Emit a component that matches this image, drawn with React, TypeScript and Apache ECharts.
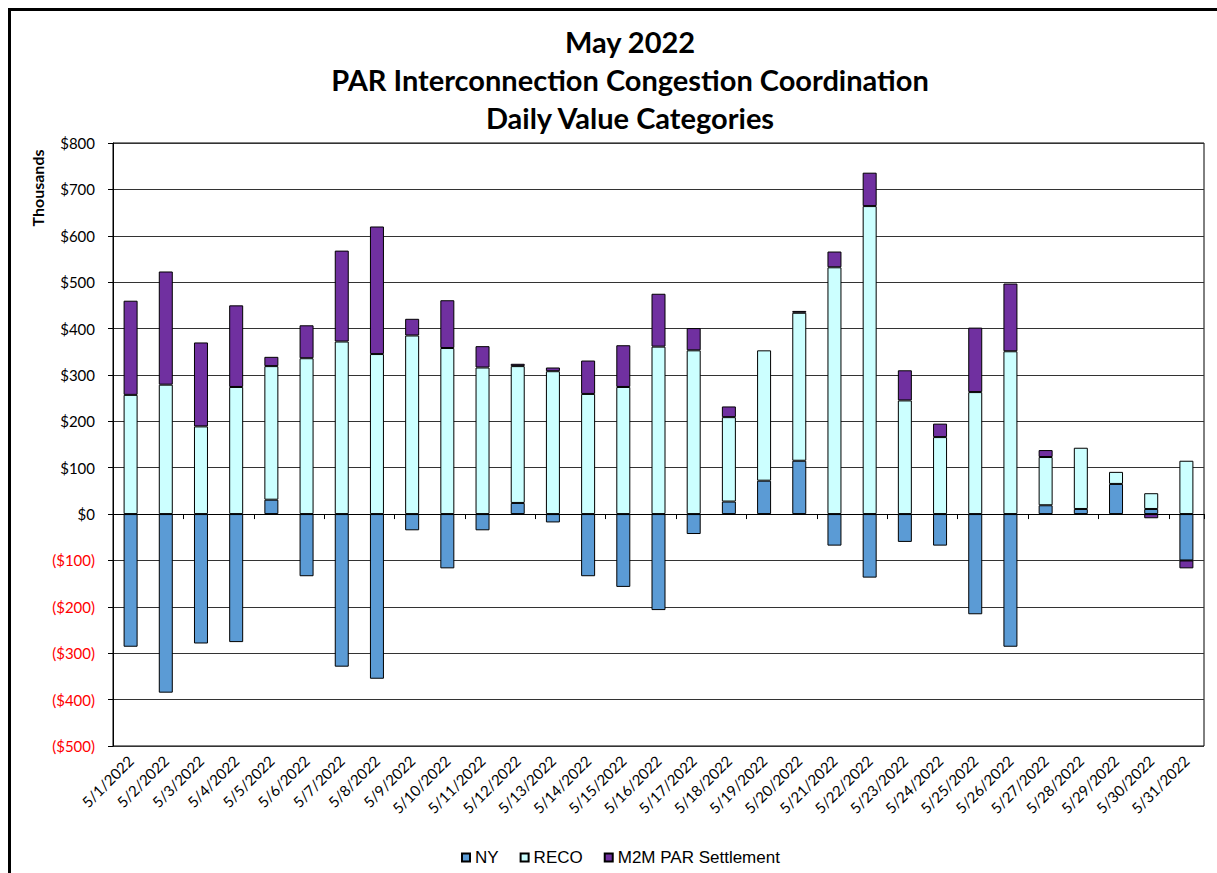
import React, { useEffect, useRef } from "react";
import * as echarts from "echarts";

const categories = [
  "5/1/2022", "5/2/2022", "5/3/2022", "5/4/2022", "5/5/2022", "5/6/2022", "5/7/2022", "5/8/2022",
  "5/9/2022", "5/10/2022", "5/11/2022", "5/12/2022", "5/13/2022", "5/14/2022", "5/15/2022", "5/16/2022",
  "5/17/2022", "5/18/2022", "5/19/2022", "5/20/2022", "5/21/2022", "5/22/2022", "5/23/2022", "5/24/2022",
  "5/25/2022", "5/26/2022", "5/27/2022", "5/28/2022", "5/29/2022", "5/30/2022", "5/31/2022",
];

const nyValues = [
  -286, -385, -279, -276, 31, -134, -329, -355, -35, -117, -35, 24, -18, -134, -157, -207,
  -43, 27, 72, 115, -68, -137, -60, -68, -216, -286, 19, 11, 65, 11, -100,
];
const recoValues = [
  257, 279, 189, 274, 288, 336, 372, 345, 385, 358, 316, 295, 308, 259, 274, 361,
  353, 182, 281, 319, 532, 664, 245, 166, 263, 351, 104, 132, 26, 34, 115,
];
const m2mValues = [
  203, 244, 181, 176, 20, 71, 196, 275, 36, 103, 46, 5, 8, 72, 90, 114,
  48, 23, 0, 4, 34, 72, 65, 29, 139, 146, 15, 0, 0, -9, -17,
];

const seriesNames = ["NY", "RECO", "M2M PAR Settlement"];
const seriesColors = ["#5B9BD5", "#CCFFFF", "#7030A0"];
const titleLines = ["May 2022", "PAR Interconnection Congestion Coordination", "Daily Value Categories"];

const Y_MIN = -500;
const Y_MAX = 800;
const Y_STEP = 100;

export default function App() {
  const ref = useRef<HTMLDivElement>(null);

  useEffect(() => {
    if (!ref.current) return;
    const chart = echarts.init(ref.current, null, { renderer: "svg" });
    const toData = (arr: number[]) => arr.map((v) => (v === 0 ? null : v));
    const dataSets = [toData(nyValues), toData(recoValues), toData(m2mValues)];

    const option: any = {
      animation: false,
      backgroundColor: "#fff",
      grid: {
        left: 113,
        right: 13,
        top: 143,
        bottom: 127,
        show: true,
        borderColor: "#000",
        borderWidth: 1,
        containLabel: false,
      },
      graphic: [
        {
          type: "rect",
          shape: { x: 9.5, y: 9.5, width: 1400, height: 1000 },
          style: { fill: "none", stroke: "#000", lineWidth: 3 },
          silent: true,
        },
        ...titleLines.map((t, i) => ({
          type: "text",
          x: 630,
          y: 41 + i * 38,
          style: {
            text: t,
            fill: "#000",
            font: "bold 29px Lato",
            align: "center",
            verticalAlign: "middle",
          },
        })),
        {
          type: "text",
          x: 37,
          y: 188,
          rotation: Math.PI / 2,
          style: {
            text: "Thousands",
            fill: "#000",
            font: "bold 16px Lato",
            align: "center",
            verticalAlign: "middle",
          },
        },
      ],
      legend: {
        data: seriesNames,
        left: 456,
        top: 844,
        itemWidth: 8,
        itemHeight: 8,
        itemGap: 21,
        icon: "rect",
        textStyle: { fontFamily: "Liberation Sans", fontSize: 17, color: "#000" },
      },
      xAxis: [
        {
          type: "category",
          data: categories,
          position: "bottom",
          axisLine: { show: true, onZero: true, lineStyle: { color: "#000", width: 1 } },
          axisTick: { show: true, length: 5, lineStyle: { color: "#000" } },
          axisLabel: { show: false },
          splitLine: { show: false },
        },
        {
          type: "category",
          data: categories,
          position: "bottom",
          axisLine: { show: false, onZero: false },
          axisTick: { show: false },
          axisLabel: {
            show: true,
            interval: 0,
            rotate: 45,
            margin: 12,
            fontFamily: "Lato",
            fontSize: 15,
            color: "#000",
          },
          splitLine: { show: false },
        },
      ],
      yAxis: {
        type: "value",
        min: Y_MIN,
        max: Y_MAX,
        interval: Y_STEP,
        axisLine: { show: true, lineStyle: { color: "#000", width: 1 } },
        axisTick: { show: true, length: 5, lineStyle: { color: "#000" } },
        splitLine: { show: true, lineStyle: { color: "#333", width: 1 } },
        axisLabel: {
          margin: 18,
          fontFamily: "Lato",
          fontSize: 15,
          formatter: (v: number) => (v < 0 ? `($${-v})` : `$${v}`),
          color: (v: any) => (Number(v) < 0 ? "#FF0000" : "#000"),
        },
      },
      series: seriesNames.map((name, i) => ({
        name,
        type: "bar",
        stack: "total",
        xAxisIndex: 0,
        barWidth: 14,
        data: dataSets[i],
        itemStyle: { color: seriesColors[i], borderColor: "#000", borderWidth: 1 },
        emphasis: { disabled: true },
      })),
    };

    chart.setOption(option);
    return () => chart.dispose();
  }, []);

  return (
    <div
      ref={ref}
      style={{ position: "fixed", left: 0, top: 0, width: 1217, height: 873 }}
    />
  );
}
